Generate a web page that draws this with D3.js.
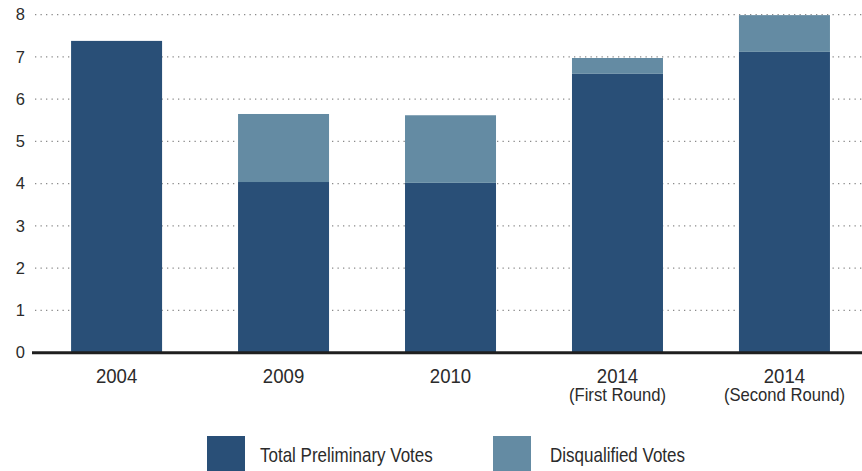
<!DOCTYPE html>
<html>
<head>
<meta charset="utf-8">
<script src="https://cdn.jsdelivr.net/npm/d3@7"></script>
<style>
  html, body { margin: 0; padding: 0; background: #fff; }
  svg { display: block; }
  text { font-family: "Liberation Sans", Arial, sans-serif; fill: #2b2b2b; }
</style>
</head>
<body>
<svg id="chart" width="862" height="471"></svg>
<script>
// Election vote counts (millions)
const categories = [["2004"], ["2009"], ["2010"], ["2014", "(First Round)"], ["2014", "(Second Round)"]];
const preliminaryVotes = [7.38, 4.04, 4.02, 6.60, 7.12];
const disqualifiedVotes = [0.00, 1.61, 1.60, 0.375, 0.87];
const yTicks = [0, 1, 2, 3, 4, 5, 6, 7, 8];
const seriesNames = ["Total Preliminary Votes", "Disqualified Votes"];
const seriesColors = ["#294f77", "#648ba3"];

const svg = d3.select("#chart");
const plotLeft = 33, plotRight = 862, plotTop = 14.7, plotBottom = 352.7;

const keys = categories.map(c => c.join(" "));
const x = d3.scaleBand().domain(keys).range([plotLeft, plotRight])
  .paddingInner(0.455).paddingOuter(0.21).align(0.543);
const y = d3.scaleLinear().domain([0, 8]).range([plotBottom, plotTop]);

// dotted gridlines
svg.append("g").selectAll("line").data(yTicks.filter(t => t > 0)).join("line")
  .attr("x1", plotLeft + 2).attr("x2", plotRight)
  .attr("y1", d => y(d)).attr("y2", d => y(d))
  .attr("stroke", "#8a8a8a").attr("stroke-width", 1.3)
  .attr("stroke-dasharray", "1.3,4.2");

// y tick labels
const yAxis = d3.axisLeft(y).tickValues(yTicks).tickSize(0).tickPadding(8).tickFormat(d3.format("d"));
const ya = svg.append("g").attr("transform", `translate(${plotLeft},0)`).call(yAxis);
ya.attr("font-family", null).attr("font-size", null);
ya.select(".domain").remove();
ya.selectAll("text").attr("font-size", 16.5).attr("fill", "#2b2b2b");

// stacked bars
const rows = keys.map((k, i) => ({ key: k, [seriesNames[0]]: preliminaryVotes[i], [seriesNames[1]]: disqualifiedVotes[i] }));
const stacked = d3.stack().keys(seriesNames)(rows);
svg.append("g").selectAll("g").data(stacked).join("g")
  .attr("fill", (d, i) => seriesColors[i])
  .selectAll("rect").data(d => d).join("rect")
  .attr("x", d => x(d.data.key))
  .attr("width", x.bandwidth())
  .attr("y", d => y(d[1]))
  .attr("height", d => y(d[0]) - y(d[1]));

// baseline
svg.append("line").attr("x1", plotLeft - 1).attr("x2", plotRight).attr("y1", plotBottom).attr("y2", plotBottom)
  .attr("stroke", "#1f1f1f").attr("stroke-width", 3);

// x category labels: one text per line, narrowed type
const lineStyle = [{ y: 383, size: 20, sx: 0.93 }, { y: 400.5, size: 18.5, sx: 0.9 }];
const xg = svg.append("g").selectAll("g").data(categories).join("g")
  .attr("transform", (d, i) => `translate(${x(keys[i]) + x.bandwidth() / 2},0)`);
xg.selectAll("text").data(d => d).join("text")
  .attr("transform", (d, j) => `translate(0,${lineStyle[j].y}) scale(${lineStyle[j].sx},1)`)
  .attr("text-anchor", "middle")
  .attr("font-size", (d, j) => lineStyle[j].size)
  .text(d => d);

// legend
const legendX = [207, 493];
const legendTextX = [53, 57];
const lg = svg.append("g").selectAll("g").data(seriesNames).join("g")
  .attr("transform", (d, i) => `translate(${legendX[i]},436)`);
lg.append("rect").attr("width", 38).attr("height", 35).attr("fill", (d, i) => seriesColors[i]);
lg.append("text").attr("transform", (d, i) => `translate(${legendTextX[i]},26) scale(0.85,1)`)
  .attr("font-size", 20).text(d => d);
</script>
</body>
</html>
